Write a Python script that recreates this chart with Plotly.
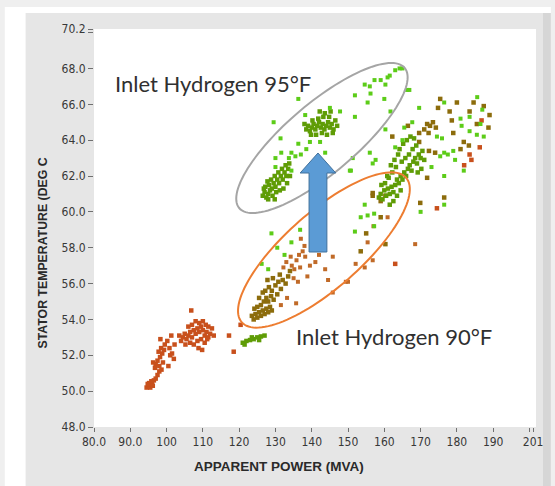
import numpy as np
import plotly.graph_objects as go

# ---------------- data ----------------
red_x = [94.5, 95.0, 95.5, 95.2, 96.0, 96.5, 95.8, 94.8, 96.2, 97.0, 97.5, 98.0,
         96.3, 97.0, 97.5, 98.2, 98.8, 97.8, 98.5, 99.3, 98.0, 99.0, 98.6, 96.8, 99.5,
         98.3, 100.2, 100.8, 101.3, 101.5, 102.0, 100.5, 102.2,
         104.5, 105.0, 105.5, 106.0, 106.5, 107.0, 107.5, 108.0, 108.5, 109.0, 109.5,
         110.0, 110.5, 111.0, 111.5, 112.0, 113.0, 106.5, 107.5, 108.5, 109.5, 110.5,
         107.0, 108.0, 109.0, 110.0, 110.8, 111.5, 106.0, 105.2, 108.8, 109.8, 112.5,
         104.0, 103.5, 111.2,
         106.8, 117.2, 118.5, 120.4, 101.0,
         186.3, 183.5, 186.8, 174.5, 163.0, 182.0, 184.0]
red_y = [50.2, 50.3, 50.2, 50.45, 50.4, 50.6, 50.55, 50.4, 50.3, 50.7, 50.9, 51.1,
         51.6, 51.5, 51.7, 51.9, 52.1, 52.2, 52.4, 52.3, 51.4, 51.6, 51.2, 51.3, 52.6,
         52.9, 52.8, 52.4, 53.1, 52.1, 51.8, 51.4, 52.6,
         53.0, 53.2, 52.9, 53.1, 53.3, 53.0, 53.4, 53.2, 53.5, 53.3, 53.6,
         53.4, 53.1, 53.3, 53.0, 53.2, 53.1, 52.7, 52.6, 52.8, 52.9, 52.7,
         53.7, 53.9, 53.8, 53.9, 53.7, 53.6, 53.6, 52.6, 52.4, 52.3, 53.5,
         52.8, 53.1, 52.9,
         54.5, 53.1, 52.2, 53.7, 52.0,
         63.6, 63.2, 65.1, 60.2, 57.1, 62.6, 62.9]

orange_x = [134.5, 135.2, 135.8, 136.5, 135.0, 133.0, 136.8, 137.5, 134.2, 138.0,
            138.2, 141.0, 143.7, 145.8, 145.8, 149.4, 152.1, 154.6, 150.0, 135.7,
            139.5, 137.0, 140.5, 142.0, 144.5, 131.5, 133.2, 156.8, 155.4, 157.0,
            160.9, 168.5, 132.2, 136.2, 138.8]
orange_y = [57.0, 56.8, 57.3, 57.6, 56.3, 57.2, 56.9, 57.8, 57.5, 58.1,
            57.5, 57.2, 56.8, 57.5, 55.5, 56.1, 57.1, 56.9, 56.1, 54.9,
            57.0, 58.5, 58.0, 57.6, 56.2, 54.8, 55.2, 57.3, 58.3, 59.2,
            59.7, 58.2, 56.9, 56.1, 56.4]

brown_x = [123.5, 124.0, 124.5, 125.0, 125.5, 126.0, 126.5, 127.0, 127.5, 128.0,
           128.5, 129.0, 126.0, 126.8, 127.5, 128.0, 128.8, 129.5, 125.0, 124.2,
           127.2, 128.2, 129.0, 130.0, 130.8, 131.5, 132.0, 132.8, 131.2, 133.5,
           134.0, 130.5, 126.5, 125.5, 127.8, 129.3,
           156.8, 159.0, 160.3, 169.9, 171.8, 176.5, 159.0, 155.0, 175.4, 180.0,
           184.6, 187.4, 178.0, 183.5, 189.0, 178.6, 171.0, 171.8, 172.6, 173.4,
           174.2, 172.2, 169.6, 188.7, 179.0, 181.9, 183.3, 169.6, 172.3, 174.0,
           181.0, 156.8, 166.5, 162.2, 174.8, 185.5, 153.5, 160.3]
brown_y = [54.2, 54.0, 54.3, 54.1, 54.4, 54.2, 54.5, 54.3, 54.6, 54.4,
           54.7, 54.5, 54.8, 55.0, 55.2, 55.0, 55.3, 55.1, 54.7, 54.6,
           55.6, 55.8, 55.6, 55.9, 56.1, 55.7, 56.2, 56.0, 56.5, 56.4,
           56.7, 55.4, 55.5, 55.2, 56.2, 56.3,
           60.9, 60.6, 60.9, 60.5, 61.9, 60.8, 59.7, 58.8, 66.3, 66.1,
           66.1, 65.9, 65.6, 65.6, 65.4, 65.1, 64.6, 64.9, 64.8, 65.0,
           64.7, 64.4, 64.4, 64.7, 64.4, 63.9, 63.7, 63.9, 63.4, 63.3,
           63.5, 61.05, 64.8, 64.2, 65.8, 64.9, 57.8, 58.2]

olive_x = [121.0, 122.0, 123.0, 124.0, 125.0, 126.0, 127.0, 121.5, 123.5, 125.5,
           126.5, 127.0, 127.5, 128.0, 128.5, 127.2, 128.2, 129.0, 129.5, 130.0,
           130.5, 131.0, 131.5, 132.0, 132.5, 133.0, 133.5, 131.8, 130.8, 129.8,
           128.8, 127.8, 126.8, 129.2, 130.2, 131.2, 132.2, 133.2, 134.0, 132.8,
           133.8, 128.0, 129.8,
           138.5, 139.0, 139.5, 140.0, 140.5, 141.0, 141.5, 142.0, 142.5, 143.0,
           143.5, 144.0, 144.5, 145.0, 145.5, 146.0, 146.5, 140.2, 141.8, 143.2,
           144.8, 139.8, 141.2, 142.8, 144.2, 145.8, 147.0, 138.0, 142.2, 143.6, 145.2,
           158.5, 159.0, 159.5, 160.0, 160.5, 161.0, 161.5, 162.0, 162.5, 163.0,
           163.5, 164.0, 164.5, 165.0, 165.5, 166.0, 166.5, 167.0, 167.5, 168.0,
           168.5, 169.0, 169.5, 170.0, 170.5, 164.8, 165.8, 166.8, 167.8, 168.8,
           163.2, 162.2, 161.2, 160.2, 159.2, 160.8, 161.8, 162.8, 163.8, 164.2,
           165.2, 166.2, 167.2, 168.2, 169.2, 170.2, 171.0, 162.5, 161.5, 163.5, 164.5]
olive_y = [52.7, 52.8, 52.85, 52.9, 53.0, 53.05, 53.1, 52.6, 53.0, 52.85,
           60.9, 61.1, 60.8, 61.0, 61.2, 61.4, 61.5, 61.3, 61.6, 61.4,
           61.8, 61.6, 62.0, 61.8, 62.2, 62.0, 62.4, 62.4, 62.2, 62.0,
           61.8, 61.7, 61.3, 60.9, 61.1, 61.2, 61.3, 61.6, 62.0, 62.6,
           62.7, 60.7, 60.7,
           64.6, 64.8, 64.5, 64.7, 64.9, 64.6, 64.8, 65.0, 64.7, 64.9,
           64.6, 64.8, 65.0, 64.7, 64.9, 64.6, 65.1, 65.1, 65.2, 65.3,
           65.3, 64.3, 64.3, 64.4, 64.3, 64.4, 64.8, 64.9, 65.6, 65.5, 65.6,
           60.8, 61.0, 60.7, 61.2, 60.9, 61.3, 61.0, 61.4, 61.1, 61.5,
           61.8, 61.6, 62.0, 61.8, 62.2, 62.0, 62.4, 62.6, 62.3, 62.8,
           63.0, 62.7, 63.2, 63.0, 63.4, 62.8, 63.0, 63.2, 63.5, 63.7,
           62.5, 62.2, 61.9, 61.6, 61.5, 62.0, 62.6, 62.9, 63.2, 63.5,
           63.8, 64.0, 64.2, 64.1, 62.2, 62.4, 62.9, 60.6, 60.4, 60.9, 61.2]

green_x = [131.6, 134.4, 136.3, 138.5, 133.7, 130.0, 134.4, 131.4, 128.9, 134.4,
           136.8, 126.2, 128.0, 130.5, 132.5, 129.5, 130.0, 136.3, 135.5, 137.0,
           139.5, 142.3, 143.7, 150.8, 151.3, 156.8, 157.6, 156.0, 155.4, 151.9,
           151.9, 154.6, 156.0, 157.3, 159.0, 160.3, 160.9, 161.5, 164.2, 163.0,
           165.0, 156.2, 160.0, 166.3, 166.9, 161.7, 160.3, 165.0, 163.0, 147.8,
           145.0, 138.2, 150.5, 153.5, 154.6, 155.4, 157.2, 151.9, 157.2,
           176.5, 169.6, 183.5, 181.0, 181.3, 167.7, 165.5, 183.5, 185.5, 187.4,
           174.5, 179.0, 176.5, 179.5, 181.9, 175.4, 177.5, 175.9, 176.5, 176.5,
           173.0, 170.0, 185.6, 187.0, 186.5]
green_y = [63.3, 63.3, 63.8, 63.5, 63.0, 63.0, 62.3, 64.1, 58.8, 58.3,
           59.0, 57.1, 56.8, 58.0, 57.6, 65.0, 62.5, 66.3, 63.1, 63.2,
           63.9, 63.9, 63.3, 62.3, 63.0, 62.7, 62.9, 63.3, 66.1, 65.3,
           66.5, 67.1, 67.0, 67.35, 67.35, 67.1, 67.5, 67.6, 68.0, 67.9,
           68.0, 66.6, 66.3, 66.8, 66.8, 65.6, 64.6, 64.0, 63.6, 65.6,
           65.8, 65.4, 62.3, 59.7, 60.4, 59.8, 59.9, 58.9, 59.2,
           66.1, 65.8, 65.3, 65.2, 64.8, 65.0, 64.7, 64.5, 64.3, 64.2,
           64.2, 63.4, 63.3, 62.9, 62.3, 63.1, 63.2, 64.1, 62.0, 60.4,
           62.5, 60.0, 66.4, 65.7, 64.9]

x_tickvals = [80, 90, 100, 110, 120, 130, 140, 150, 160, 170, 180, 190, 200, 201]
x_ticktext = ["80.0", "90.0", "100", "110", "120", "130", "140", "150", "160",
              "170", "180", "190", "", "201"]
y_tickvals = [48, 50, 52, 54, 56, 58, 60, 62, 64, 66, 68, 70, 70.2]
y_ticktext = ["48.0", "50.0", "52.0", "54.0", "56.0", "58.0", "60.0", "62.0",
              "64.0", "66.0", "68.0", "", "70.2"]

X_RANGE = [80, 201.8]
Y_RANGE = [48, 70.2]

# ---------------- layout geometry (pixels) ----------------
W, H = 555, 486
L, R, T, B = 94, 540, 29, 427


def px2data(px, py):
    x = X_RANGE[0] + (np.asarray(px) - L) / (R - L) * (X_RANGE[1] - X_RANGE[0])
    y = Y_RANGE[0] + (B - np.asarray(py)) / (B - T) * (Y_RANGE[1] - Y_RANGE[0])
    return x, y


def px2paper(px, py):
    return (px - L) / (R - L), (B - py) / (B - T)


def ellipse_path(cx, cy, a, b, ang_deg):
    t = np.linspace(0, 2 * np.pi, 121)
    ang = np.radians(ang_deg)
    ex = a * np.cos(t)
    ey = b * np.sin(t)
    px = cx + ex * np.cos(ang) - ey * np.sin(ang)
    py = cy - (ex * np.sin(ang) + ey * np.cos(ang))
    xs, ys = px2data(px, py)
    return "M " + " L ".join(f"{x:.4f},{y:.4f}" for x, y in zip(xs, ys)) + " Z"


def rect_paper(x0, y0, x1, y1, color):
    a0, b0 = px2paper(x0, y1)
    a1, b1 = px2paper(x1, y0)
    return dict(type="rect", xref="paper", yref="paper", x0=a0, y0=b0, x1=a1, y1=b1,
                fillcolor=color, line=dict(width=0), layer="below")


fig = go.Figure()

groups = [
    (red_x, red_y, "#c8501c", 4.5),
    (orange_x, orange_y, "#c06a28", 4),
    (brown_x, brown_y, "#8c6c0c", 4.5),
    (olive_x, olive_y, "#5f9c06", 4.5),
    (green_x, green_y, "#5ccc18", 4),
]
for gx, gy, col, sz in groups:
    fig.add_trace(go.Scatter(x=gx, y=gy, mode="markers",
                             marker=dict(symbol="square", size=sz, color=col,
                                         line=dict(width=0)),
                             showlegend=False, hoverinfo="skip"))

shapes = [
    rect_paper(4, 7, 555, 486, "#ffffff"),
    rect_paper(25, 13, 547, 486, "#e6e6e6"),
    rect_paper(547, 13, 555, 486, "#d6d6d6"),
    rect_paper(L, T, R, B, "#ffffff"),
]

# ellipses
shapes.append(dict(type="path", xref="x", yref="y",
                   path=ellipse_path(324, 138, 109, 35, 40),
                   line=dict(color="#a5a5a5", width=2), layer="above"))
shapes.append(dict(type="path", xref="x", yref="y",
                   path=ellipse_path(326, 250, 110, 38, 41),
                   line=dict(color="#ed7d31", width=2), layer="above"))

# blue arrow
ax_px = [311, 311, 302, 320, 338, 329, 329]
ay_px = [252, 173, 173, 153, 173, 173, 252]
axd, ayd = px2data(ax_px, ay_px)
arrow_path = "M " + " L ".join(f"{x:.4f},{y:.4f}" for x, y in zip(axd, ayd)) + " Z"
shapes.append(dict(type="path", xref="x", yref="y", path=arrow_path,
                   fillcolor="#5b9bd5", line=dict(color="#41719c", width=1),
                   layer="above"))

annotations = []
tx, ty = px2paper(113, 83)
annotations.append(dict(x=tx, y=ty, xref="paper", yref="paper", xanchor="left",
                        yanchor="middle", showarrow=False,
                        text="Inlet Hydrogen 95°F",
                        font=dict(family="Lato, Open Sans, sans-serif", size=22,
                                  color="#303030")))
tx, ty = px2paper(296, 336)
annotations.append(dict(x=tx, y=ty, xref="paper", yref="paper", xanchor="left",
                        yanchor="middle", showarrow=False,
                        text="Inlet Hydrogen 90°F",
                        font=dict(family="Lato, Open Sans, sans-serif", size=22,
                                  color="#303030")))
# axis titles
tx, ty = px2paper(281, 466)
annotations.append(dict(x=tx, y=ty, xref="paper", yref="paper", xanchor="center",
                        yanchor="middle", showarrow=False,
                        text="<b>APPARENT POWER (MVA)</b>",
                        font=dict(family="Liberation Sans, Arial, sans-serif",
                                  size=13.5, color="#2a2a2a")))
tx, ty = px2paper(43, 253)
annotations.append(dict(x=tx, y=ty, xref="paper", yref="paper", xanchor="center",
                        yanchor="middle", showarrow=False, textangle=-90,
                        text="<b>STATOR TEMPERATURE (DEG C</b>",
                        font=dict(family="Liberation Sans, Arial, sans-serif",
                                  size=12.3, color="#2a2a2a")))

tickfont = dict(family="DejaVu Sans Condensed, Liberation Sans Narrow, Liberation Sans, sans-serif",
                size=12, color="#383838")

fig.update_layout(
    width=W, height=H,
    margin=dict(l=L, r=W - R, t=T, b=H - B, pad=0),
    paper_bgcolor="#efefef",
    plot_bgcolor="#ffffff",
    shapes=shapes,
    annotations=annotations,
    xaxis=dict(range=X_RANGE, tickmode="array", tickvals=x_tickvals,
               ticktext=x_ticktext, ticks="outside", ticklen=4, tickwidth=1,
               tickcolor="#707070", showgrid=False, zeroline=False,
               showline=False, tickfont=tickfont, fixedrange=True),
    yaxis=dict(range=Y_RANGE, tickmode="array", tickvals=y_tickvals,
               ticktext=y_ticktext, ticks="outside", ticklen=5, tickwidth=1,
               tickcolor="#707070", showgrid=False, zeroline=False,
               showline=False, tickfont=tickfont, fixedrange=True),
)

fig.write_html(
    "out.html",
    config={"displayModeBar": False},
    post_script="document.body.style.margin='0px';document.body.style.overflow='hidden';",
)
